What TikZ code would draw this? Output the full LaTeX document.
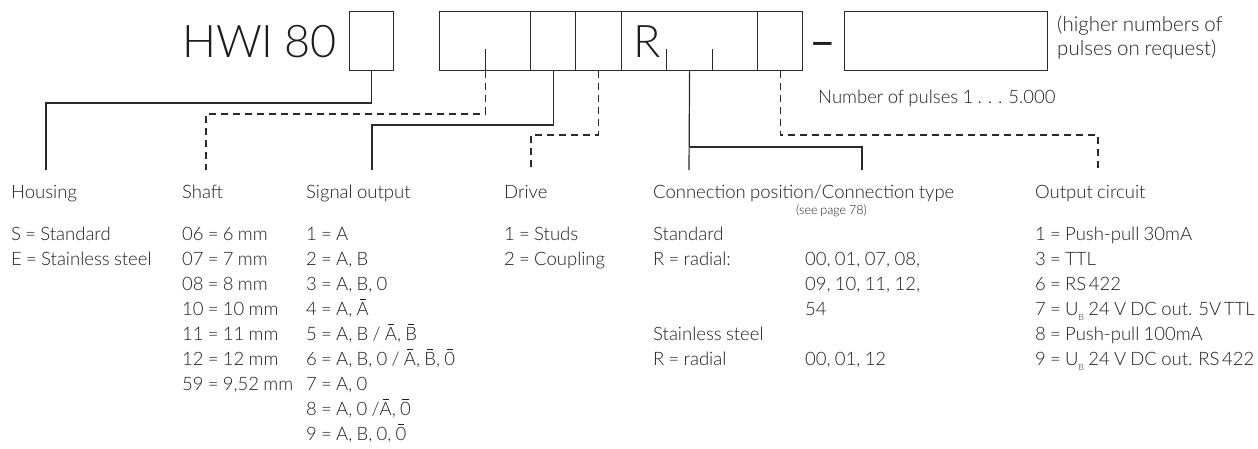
\documentclass[tikz,border=0pt]{standalone}
\usepackage{fontspec}
\setmainfont{Lato Light}[WordSpace=0.85]
\newfontfamily\latoreg{Lato}
\usetikzlibrary{calc}
\definecolor{ink}{HTML}{1E1E1E}
\definecolor{linec}{HTML}{2A2A2A}
\newcommand\barred[1]{\ooalign{#1\cr\hidewidth\raisebox{0.8em}{\rule{0.34em}{0.06em}}\hidewidth\cr}}
\newcommand\ub{U\raisebox{-0.3em}{\fontsize{8.5}{9}\selectfont B}}
\newcommand\tsp{\hspace{0.14em}}
\tikzset{
  cell/.style={draw=linec, line width=1.2pt, minimum height=59pt, inner sep=0pt, anchor=north west},
  big/.style={anchor=base west, inner sep=0pt, text=ink, font=\fontsize{45}{48}\selectfont},
  txt/.style={anchor=base west, inner sep=0pt, text=ink, font=\fontsize{18.5}{22}\selectfont},
  note/.style={anchor=base west, inner sep=0pt, text=ink, font=\fontsize{20.5}{24}\selectfont},
  small/.style={anchor=base west, inner sep=0pt, text=ink, font=\fontsize{12.5}{14}\selectfont},
  solidcon/.style={draw=linec, line width=1.2pt},
  dashcon/.style={draw=linec, line width=1.2pt, dash pattern=on 7pt off 5pt},
  tick/.style={draw=linec, line width=1.2pt}
}
\begin{document}
\begin{tikzpicture}[x=1pt,y=-1pt]
\useasboundingbox (0,0) rectangle (1258,448);
% --- type code ---
\node[big] (hwi) at (182,57) {HWI 80};
\node[cell, minimum width=44pt] (b1) at (349,11) {};
\node[cell, minimum width=91pt] (g1) at (439,11) {};
\node[cell, minimum width=45pt] (g2) at (530,11) {};
\node[cell, minimum width=46pt] (g3) at (575,11) {};
\node[cell, minimum width=136pt] (g4) at (621,11) {};
\node[cell, minimum width=45pt] (g5) at (757,11) {};
\node[big] (rr) at (633,57) {R};
\node[big, anchor=base, font=\latoreg\fontsize{46}{48}\selectfont] (dash) at (823,57) {–};
\node[cell, minimum width=203pt] (bl) at (844,11) {};
% ticks
\draw[tick] (g1.south) -- ++(0,-22);
\draw[tick] ($(g4.south)+(-23,0)$) -- ++(0,-22);
\draw[tick] ($(g4.south)+(23,0)$) -- ++(0,-22);
% notes
\node[note] (hi1) at (1057,31) {(higher numbers of};
\node[note] (hi2) at (1057,55) {pulses on request)};
\node[txt] (nop) at (818,103) {Number of pulses 1 . . . 5.000};
% --- connector end points ---
\coordinate (eH) at (46,170);
\coordinate (eS) at (206,170);
\coordinate (eO) at (372,170);
\coordinate (eD) at (531,170);
\coordinate (eC1) at (689,170);
\coordinate (eC2) at (862,170);
\coordinate (eX) at (1098,170);
% --- connectors ---
\draw[solidcon] (b1.south) -- (b1.south |- 0,103) -| (eH);
\draw[dashcon] (g1.south) -- (g1.south |- 0,114) -| (eS);
\draw[solidcon] (g2.south) -- (g2.south |- 0,125) -| (eO);
\draw[dashcon] (g3.south) -- (g3.south |- 0,135) -| (eD);
\draw[solidcon] (g4.south) -- (eC1);
\draw[solidcon] (g4.south |- 0,147) -| (eC2);
\draw[dashcon] (g5.south) -- (g5.south |- 0,135) -| (eX);
% --- headers ---
\node[txt] (hH) at (11,198) {Housing};
\node[txt] (hS) at (182,198) {Shaft};
\node[txt] (hO) at (306,198) {Signal output};
\node[txt] (hD) at (504,198) {Drive};
\node[txt] (hC) at (653,198) {Connection position/Connection type};
\node[small] (hCs) at (796,214) {(see page 78)};
\node[txt] (hX) at (1035,198) {Output circuit};
% --- housing ---
\node[txt] (h1) at (11,240) {S = Standard};
\node[txt] (h2) at (11,265) {E = Stainless steel};
% --- shaft ---
\node[txt] (s1) at (182,240) {06 = 6 mm};
\node[txt] (s2) at (182,265) {07 = 7 mm};
\node[txt] (s3) at (182,290) {08 = 8 mm};
\node[txt] (s4) at (182,315) {10 = 10 mm};
\node[txt] (s5) at (182,340) {11 = 11 mm};
\node[txt] (s6) at (182,365) {12 = 12 mm};
\node[txt] (s7) at (182,390) {59 = 9,52 mm};
% --- signal output ---
\node[txt] (o1) at (306,240) {1 = A};
\node[txt] (o2) at (306,265) {2 = A, B};
\node[txt] (o3) at (306,290) {3 = A, B, 0};
\node[txt] (o4) at (306,315) {4 = A, \barred{A}};
\node[txt] (o5) at (306,340) {5 = A, B / \barred{A}, \barred{B}};
\node[txt] (o6) at (306,365) {6 = A, B, 0 / \barred{A}, \barred{B}, \barred{0}};
\node[txt] (o7) at (306,390) {7 = A, 0};
\node[txt] (o8) at (306,415) {8 = A, 0 /\barred{A}, \barred{0}};
\node[txt] (o9) at (306,440) {9 = A, B, 0, \barred{0}};
% --- drive ---
\node[txt] (d1) at (504,240) {1 = Studs};
\node[txt] (d2) at (504,265) {2 = Coupling};
% --- connection ---
\node[txt] (c1) at (653,240) {Standard};
\node[txt] (c2) at (653,265) {R = radial:};
\node[txt] (c3) at (805,265) {00, 01, 07, 08,};
\node[txt] (c4) at (805,290) {09, 10, 11, 12,};
\node[txt] (c5) at (805,315) {54};
\node[txt] (c6) at (653,340) {Stainless steel};
\node[txt] (c7) at (653,365) {R = radial};
\node[txt] (c8) at (805,365) {00, 01, 12};
% --- output circuit ---
\node[txt] (x1) at (1035,240) {1 = Push-pull 30mA};
\node[txt] (x2) at (1035,265) {3 = TTL};
\node[txt] (x3) at (1035,290) {6 = RS\tsp 422};
\node[txt] (x4) at (1035,315) {7 = \ub\ 24 V DC out. 5V\tsp TTL};
\node[txt] (x5) at (1035,340) {8 = Push-pull 100mA};
\node[txt] (x6) at (1035,365) {9 = \ub\ 24 V DC out. RS\tsp 422};
\end{tikzpicture}
\end{document}
